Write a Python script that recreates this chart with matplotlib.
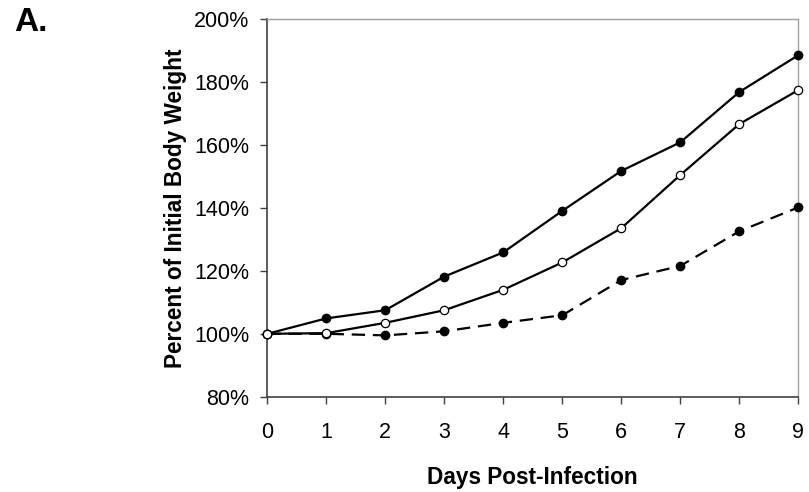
import matplotlib.pyplot as plt
from matplotlib.ticker import FuncFormatter

plt.rcParams['font.family'] = ['Liberation Sans', 'DejaVu Sans']

days = [0, 1, 2, 3, 4, 5, 6, 7, 8, 9]
group_filled = [100, 104.9, 107.5, 118.2, 125.9, 139.1, 151.8, 160.9, 176.9, 188.6]
group_open = [100, 100.2, 103.5, 107.5, 114.0, 122.7, 133.6, 150.5, 166.7, 177.5]
group_dashed = [100, 100, 99.5, 100.8, 103.5, 105.9, 117.1, 121.6, 132.6, 140.2]
yticks = [80, 100, 120, 140, 160, 180, 200]

fig = plt.figure(figsize=(8.09, 4.92), dpi=100)
ax = fig.add_axes([0.3304, 0.1937, 0.6564, 0.767])

ax.plot(days, group_dashed, color='black', lw=1.6, dashes=(6, 3.5),
        marker='o', ms=6, mfc='black', mec='black', clip_on=False, zorder=3)
ax.plot(days, group_filled, color='black', lw=1.6,
        marker='o', ms=6, mfc='black', mec='black', clip_on=False, zorder=4)
ax.plot(days, group_open, color='black', lw=1.6,
        marker='o', ms=6, mfc='white', mec='black', mew=0.9, clip_on=False, zorder=5)

ax.set_xlim(0, 9)
ax.set_ylim(80, 200)
ax.set_xticks(days)
ax.set_yticks(yticks)
ax.yaxis.set_major_formatter(FuncFormatter(lambda v, p: '%d%%' % v))

for s in ['left', 'bottom']:
    ax.spines[s].set_color('#404040')
    ax.spines[s].set_linewidth(1.2)
for s in ['top', 'right']:
    ax.spines[s].set_color('#a0a0a0')
    ax.spines[s].set_linewidth(1.0)

ax.tick_params(axis='both', direction='out', length=5, width=1, color='#404040',
               labelsize=15.5)
ax.tick_params(axis='y', pad=8)
ax.tick_params(axis='x', pad=13.5)

ax.set_xlabel('Days Post-Infection', fontsize=16.3, fontweight='bold')
ax.set_ylabel('Percent of Initial Body Weight', fontsize=16.3, fontweight='bold')
ax.xaxis.set_label_coords(0.5, -0.184)
ax.yaxis.set_label_coords(-0.152, 0.5)

fig.text(0.017, 0.955, 'A.', fontsize=24, fontweight='bold', va='center', ha='left')

fig.savefig('out.png', dpi=100)
